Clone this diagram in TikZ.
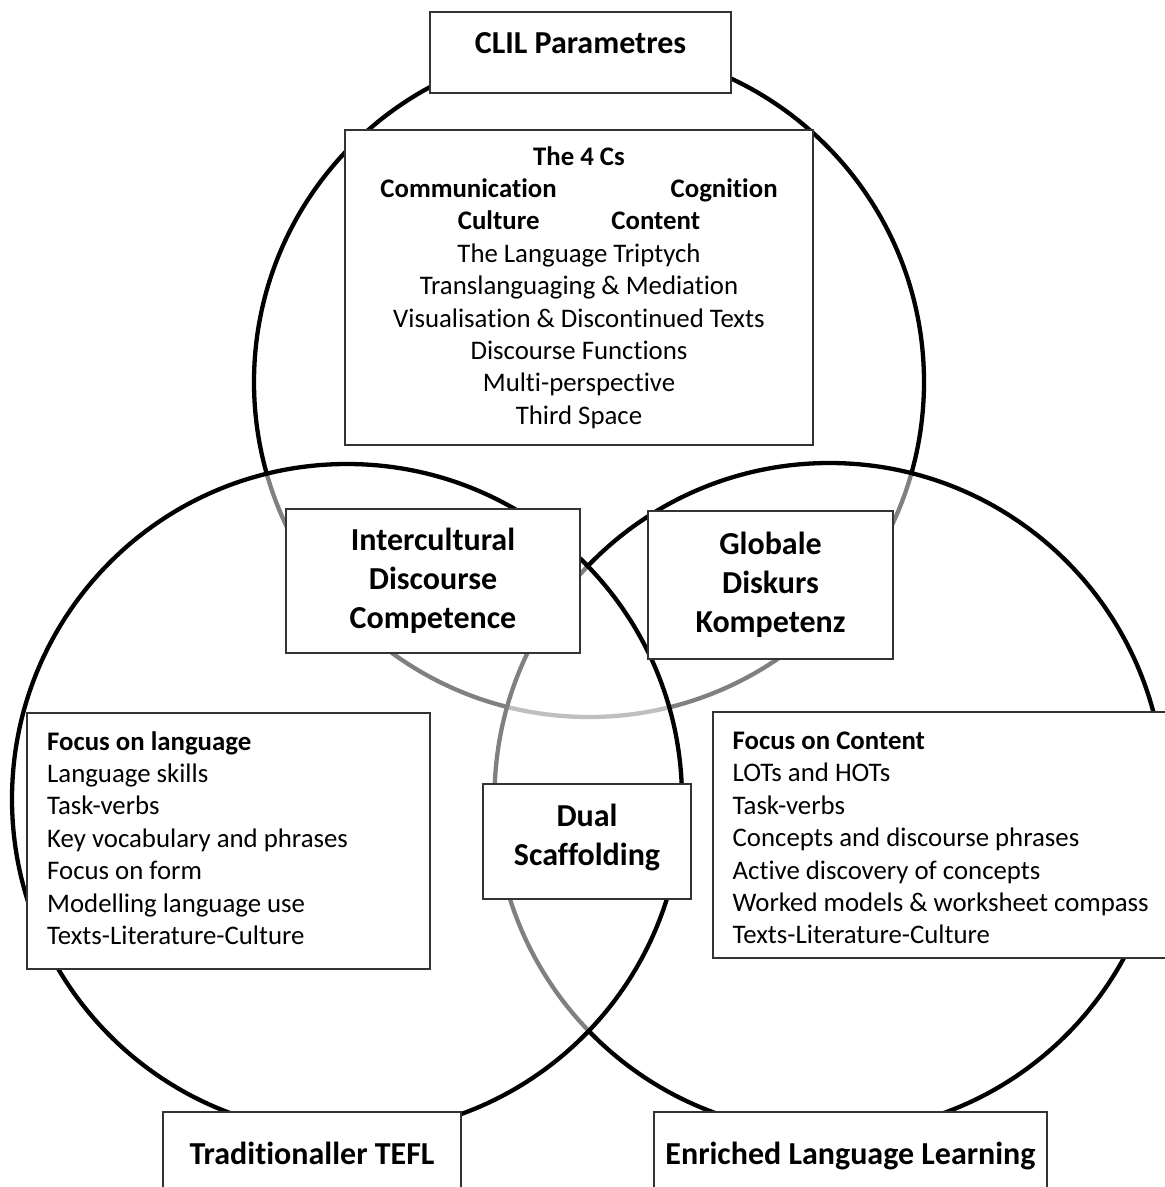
\documentclass[tikz,border=0pt]{standalone}
\usepackage{fontspec}
\setmainfont{Carlito}[Ligatures={NoCommon}]
\begin{document}
\begin{tikzpicture}[x=1pt,y=-1pt,
  ring/.style={circle, draw=black, line width=4.3pt, fill=white, fill opacity=0.5,
    inner sep=0pt, minimum size=670},
  box/.style={draw=black!80, line width=1.3pt, fill=white, inner sep=0pt},
  head/.style={font=\fontsize{32}{39}\selectfont\bfseries, align=center},
  body/.style={font=\fontsize{26.8}{32.4}\selectfont},
]
\useasboundingbox (0,0) rectangle (1165,1187);
\fill[white] (0,0) rectangle (1165,1187);

% the three overlapping circles; each translucent white fill pales the outlines beneath it
\node[ring] (cTop)   at (589,382) {};
\node[ring] (cRight) at (829.5,798) {};
\node[ring] (cLeft)  at (347,799) {};

% title box
\node[box, minimum width=301, minimum height=81] (clil) at (580.5,52.5) {};
\node[head] (clilText) at (580.5,43) {CLIL Parametres};

% the 4 Cs box
\node[box, body, align=center, minimum width=468, minimum height=315] (fourC) at (579,287.5)
 {\textbf{The 4 Cs}\\
  \textbf{Communication}\hspace{114pt}\textbf{Cognition}\\
  \textbf{Culture}\hspace{72pt}\textbf{Content}\\
  The Language Triptych\\
  Translanguaging \& Mediation\\
  Visualisation \& Discontinued Texts\\
  Discourse Functions\\
  Multi-perspective\\
  Third Space};

% overlap boxes
\node[box, head, minimum width=294, minimum height=144] (icc) at (433,581)
 {Intercultural\\Discourse\\Competence};
\node[box, head, minimum width=245, minimum height=148] (gdk) at (770.5,585)
 {Globale\\Diskurs\\Kompetenz};
\node[box, minimum width=208, minimum height=115] (dual) at (587,841.5) {};
\node[head] (dualText) at (587,837.5) {Dual\\Scaffolding};

% content lists
\node[box, minimum width=403, minimum height=256] (lang) at (228.5,841) {};
\node[body, align=flush left, anchor=west, inner sep=0pt] (langText) at (47,838)
 {\textbf{Focus on language}\\
  Language skills\\
  Task-verbs\\
  Key vocabulary and phrases\\
  Focus on form\\
  Modelling language use\\
  Texts-Literature-Culture};
\node[box, minimum width=470, minimum height=246] (cont) at (948,835) {};
\node[body, align=flush left, anchor=west, inner sep=0pt] (contText) at (732.5,838)
 {\textbf{Focus on Content}\\
  LOTs and HOTs\\
  Task-verbs\\
  Concepts and discourse phrases\\
  Active discovery of concepts\\
  Worked models \& worksheet compass\\
  Texts-Literature-Culture};

% bottom labels
\node[box, head, text depth=0pt, minimum width=298, minimum height=82] (tefl) at (312,1153)
 {Traditionaller TEFL};
\node[box, head, text depth=0pt, minimum width=393, minimum height=82] (ell) at (850.5,1153)
 {Enriched Language Learning};
\end{tikzpicture}
\end{document}
